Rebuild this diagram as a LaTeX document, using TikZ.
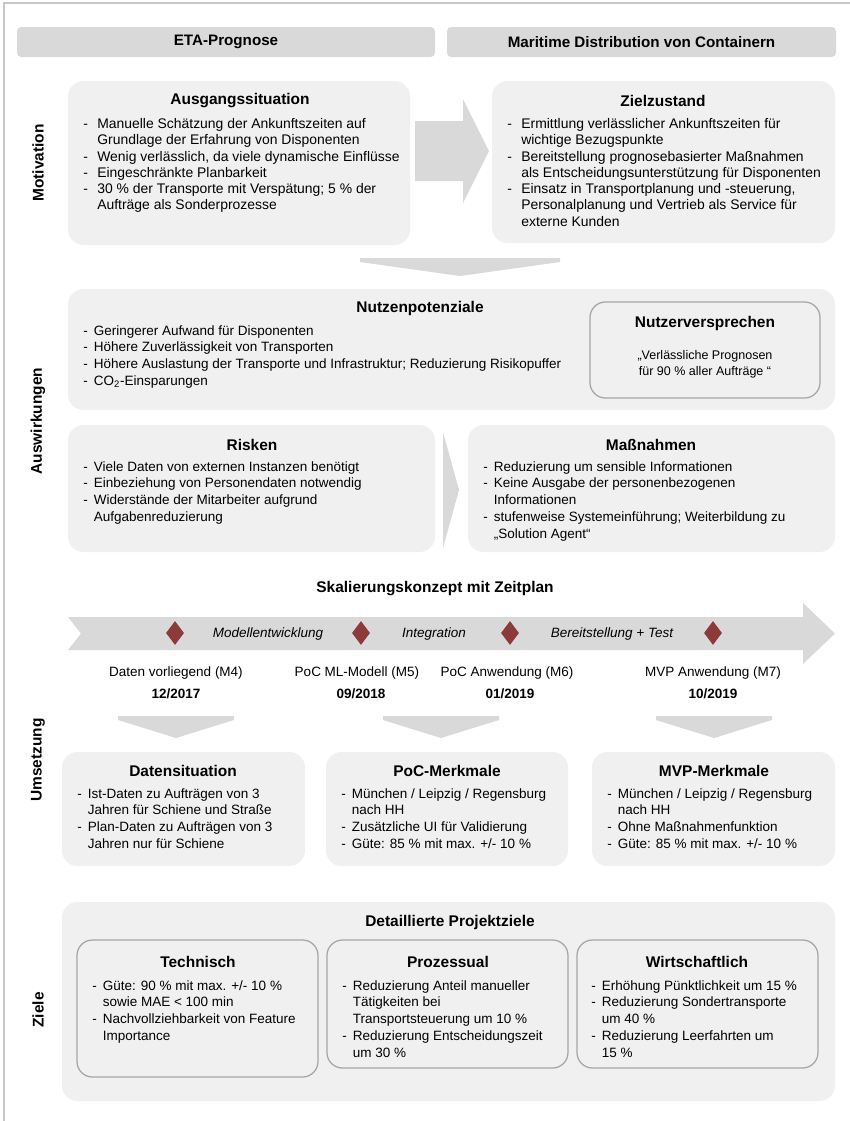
\documentclass[tikz,border=0pt]{standalone}
\usepackage{fontspec}
\setmainfont{Liberation Sans}
\usetikzlibrary{shapes.geometric, positioning, fit}

\definecolor{panelgray}{HTML}{F0F0F0}
\definecolor{bargray}{HTML}{D9D9D9}
\definecolor{edgegray}{HTML}{A6A6A6}
\definecolor{framegray}{HTML}{C8C8C8}
\definecolor{msred}{HTML}{8C3A3A}

\newlength{\dashw}
\newcommand{\dash}{\makebox[\dashw][l]{-}}
\newcommand{\cont}{\hspace*{\dashw}}

\begin{document}
\begin{tikzpicture}[x=0.025cm, y=-0.025cm,
    panel/.style={fill=panelgray, rounded corners=11pt, inner sep=0pt},
    framed/.style={panel, draw=edgegray, line width=0.9pt},
    hdr/.style={fill=bargray, rounded corners=3pt, inner sep=0pt},
    hdrtxt/.style={font=\bfseries\fontsize{10.8}{13}\selectfont},
    side/.style={rotate=90, font=\bfseries\fontsize{11}{13}\selectfont},
    ttl/.style={font=\bfseries\fontsize{11}{13}\selectfont},
    txt/.style={anchor=north west, inner sep=0pt, align=left, font=\fontsize{9.9}{11.6}\selectfont\setlength{\dashw}{10pt}},
    ntxt/.style={anchor=north west, inner sep=0pt, align=left, font=\fontsize{9.6}{12}\selectfont\setlength{\dashw}{7.5pt}},
    mtxt/.style={inner sep=0pt, font=\fontsize{9.6}{12}\selectfont},
    mdate/.style={inner sep=0pt, font=\bfseries\fontsize{9.6}{12}\selectfont},
    phase/.style={inner sep=0pt, font=\itshape\fontsize{9.6}{12}\selectfont},
    ms/.style={diamond, fill=msred, inner sep=0pt, minimum width=0.45cm, minimum height=0.6cm}]

    \useasboundingbox (0,0) rectangle (850,1121);
    \draw[framegray, line width=0.9pt] (4,1121) -- (4,3) -- (850,3);

    % header
    \node[hdr, fit={(17,27) (435,57)}] (h1) {};
    \node[hdrtxt] at (h1.center) {ETA-Prognose};
    \node[hdr, fit={(447,27) (836,57)}] (h2) {};
    \node[hdrtxt] at (h2.center) {Maritime Distribution von Containern};

    % side labels
    \node[side] (smot) at (38,163) {Motivation};
    \node[side] (sausw) at (38,421) {Auswirkungen};
    \node[side] (sums) at (38,760) {Umsetzung};
    \node[side] (sziel) at (38,1010) {Ziele};

    % Motivation
    \node[panel, fit={(68,81) (410,245)}] (ausg) {};
    \node[ttl] at (240,101) {Ausgangssituation};
    \node[txt] at (83,118) {\dash Manuelle Schätzung der Ankunftszeiten auf\\
        \cont Grundlage der Erfahrung von Disponenten\\
        \dash Wenig verlässlich, da viele dynamische Einflüsse\\
        \dash Eingeschränkte Planbarkeit\\
        \dash 30 \% der Transporte mit Verspätung; 5 \% der\\
        \cont Aufträge als Sonderprozesse};

    \fill[bargray] (415,121) -- (463,121) -- (463,99) -- (489,151) -- (463,203) -- (463,181) -- (415,181) -- cycle;

    \node[panel, fit={(492,81) (835,243)}] (ziel) {};
    \node[ttl] at (663,101) {Zielzustand};
    \node[txt] at (507,118) {\dash Ermittlung verlässlicher Ankunftszeiten für\\
        \cont wichtige Bezugspunkte\\
        \dash Bereitstellung prognosebasierter Maßnahmen\\
        \cont als Entscheidungsunterstützung für Disponenten\\
        \dash Einsatz in Transportplanung und -steuerung,\\
        \cont Personalplanung und Vertrieb als Service für\\
        \cont externe Kunden};

    \fill[bargray] (360,258) -- (560,258) -- (560,262) -- (460,276) -- (360,262) -- cycle;

    % Auswirkungen
    \node[panel, fit={(68,289) (835,410)}] (nutz) {};
    \node[ttl] at (420,308) {Nutzenpotenziale};
    \node[ntxt] at (83,325) {\dash Geringerer Aufwand für Disponenten\\
        \dash Höhere Zuverlässigkeit von Transporten\\
        \dash Höhere Auslastung der Transporte und Infrastruktur; Reduzierung Risikopuffer\\
        \dash CO\textsubscript{2}-Einsparungen};

    \node[framed, fit={(590,302) (820,398)}] (vers) {};
    \node[ttl] at (705,323) {Nutzerversprechen};
    \node[mtxt, align=center, font=\fontsize{8.9}{11.6}\selectfont] at (705,364) {„Verlässliche Prognosen\\für 90 \% aller Aufträge “};

    \node[panel, fit={(68,425) (435,552)}] (risk) {};
    \node[ttl] at (252,445) {Risken};
    \node[ntxt] at (83,461) {\dash Viele Daten von externen Instanzen benötigt\\
        \dash Einbeziehung von Personendaten notwendig\\
        \dash Widerstände der Mitarbeiter aufgrund\\
        \cont Aufgabenreduzierung};

    \fill[bargray] (443,432) -- (459,490) -- (443,548) -- cycle;

    \node[panel, fit={(468,425) (835,552)}] (mass) {};
    \node[ttl] at (651,445) {Maßnahmen};
    \node[ntxt] at (483,461) {\dash Reduzierung um sensible Informationen\\
        \dash Keine Ausgabe der personenbezogenen\\
        \cont Informationen\\
        \dash stufenweise Systemeinführung; Weiterbildung zu\\
        \cont „Solution Agent“};

    % Zeitplan
    \node[ttl] (zeit) at (435,589) {Skalierungskonzept mit Zeitplan};
    \fill[bargray] (68,617) -- (803,617) -- (803,603) -- (835,633.5) -- (803,664) -- (803,650) -- (68,650) -- (81,633.5) -- cycle;

    \node[ms] (m4) at (175,633) {};
    \node[ms] (m5) at (361,633) {};
    \node[ms] (m6) at (510,633) {};
    \node[ms] (m7) at (713,633) {};
    \node[phase] at (268,634) {Modellentwicklung};
    \node[phase] at (434,634) {Integration};
    \node[phase] at (612,634) {Bereitstellung + Test};

    \node[mtxt] (l4) at (176,673) {Daten vorliegend (M4)};
    \node[mtxt] (l5) at (357,673) {PoC ML-Modell (M5)};
    \node[mtxt] (l6) at (507,673) {PoC Anwendung (M6)};
    \node[mtxt] (l7) at (713,673) {MVP Anwendung (M7)};
    \node[mdate] at (176,694) {12/2017};
    \node[mdate] at (361,694) {09/2018};
    \node[mdate] at (510,694) {01/2019};
    \node[mdate] at (713,694) {10/2019};

    \foreach \cx in {176,441,714}
        \fill[bargray] (\cx-58,716) -- (\cx+58,716) -- (\cx+58,720) -- (\cx,738) -- (\cx-58,720) -- cycle;

    % Umsetzung
    \node[panel, fit={(62,752) (305,866)}] (dat) {};
    \node[ttl] at (183,771) {Datensituation};
    \node[ntxt] at (77,788) {\dash Ist-Daten zu Aufträgen von 3\\
        \cont Jahren für Schiene und Straße\\
        \dash Plan-Daten zu Aufträgen von 3\\
        \cont Jahren nur für Schiene};

    \node[panel, fit={(326,752) (568,866)}] (poc) {};
    \node[ttl] at (447,771) {PoC-Merkmale};
    \node[ntxt] at (341,788) {\dash München / Leipzig / Regensburg\\
        \cont nach HH\\
        \dash Zusätzliche UI für Validierung\\
        \dash Güte: 85 \% mit max. +/- 10 \%};

    \node[panel, fit={(592,752) (835,866)}] (mvp) {};
    \node[ttl] at (714,771) {MVP-Merkmale};
    \node[ntxt] at (607,788) {\dash München / Leipzig / Regensburg\\
        \cont nach HH\\
        \dash Ohne Maßnahmenfunktion\\
        \dash Güte: 85 \% mit max. +/- 10 \%};

    % Ziele
    \node[panel, fit={(62,902) (835,1101)}] (proj) {};
    \node[ttl] at (450,922) {Detaillierte Projektziele};

    \node[framed, fit={(77,940) (318,1077)}] (tech) {};
    \node[ttl] at (198,962) {Technisch};
    \node[ntxt] at (92,980) {\dash Güte: 90 \% mit max. +/- 10 \%\\
        \cont sowie MAE < 100 min\\
        \dash Nachvollziehbarkeit von Feature\\
        \cont Importance};

    \node[framed, fit={(327,940) (568,1068)}] (proz) {};
    \node[ttl] at (448,962) {Prozessual};
    \node[ntxt] at (342,980) {\dash Reduzierung Anteil manueller\\
        \cont Tätigkeiten bei\\
        \cont Transportsteuerung um 10 \%\\
        \dash Reduzierung Entscheidungszeit\\
        \cont um 30 \%};

    \node[framed, fit={(577,940) (818,1068)}] (wirt) {};
    \node[ttl] at (697,962) {Wirtschaftlich};
    \node[ntxt] at (591,980) {\dash Erhöhung Pünktlichkeit um 15 \%\\
        \dash Reduzierung Sondertransporte\\
        \cont um 40 \%\\
        \dash Reduzierung Leerfahrten um\\
        \cont 15 \%};
\end{tikzpicture}
\end{document}
